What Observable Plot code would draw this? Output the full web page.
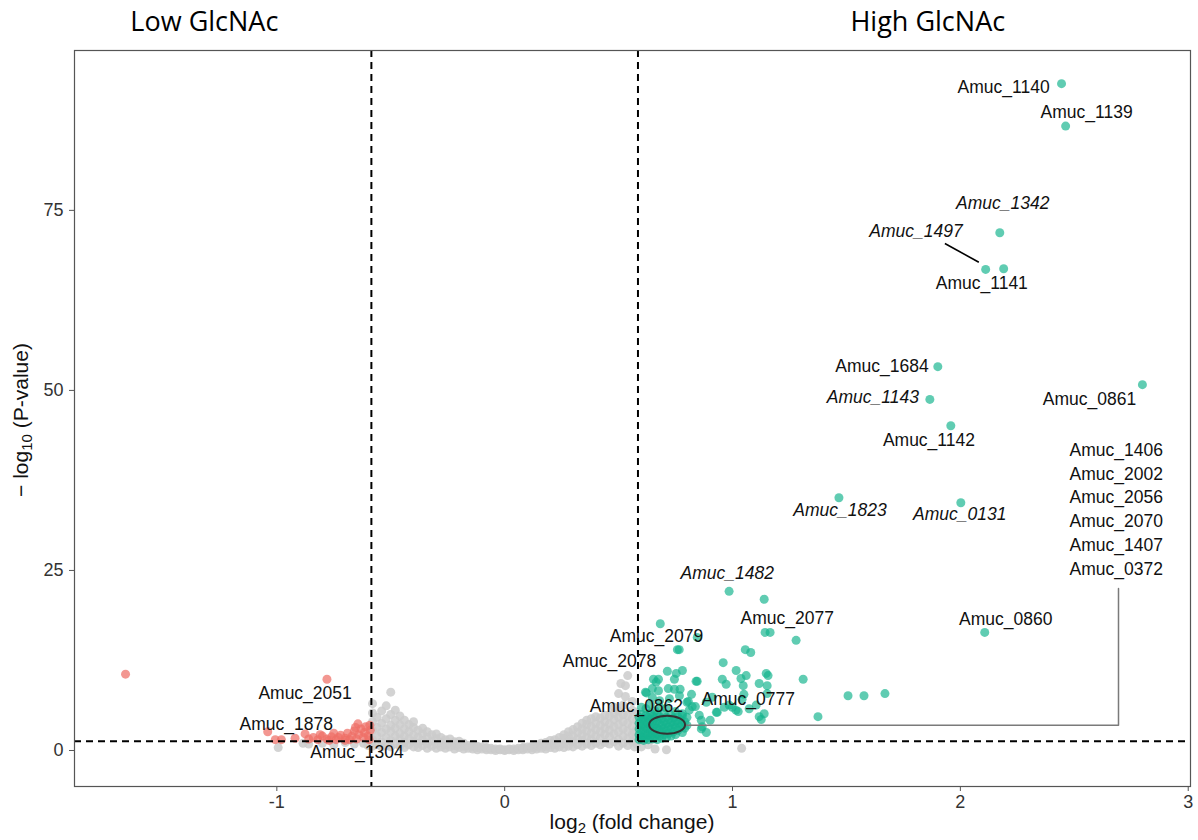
<!DOCTYPE html>
<html><head><meta charset="utf-8">
<script src="https://cdn.jsdelivr.net/npm/d3@7"></script>
<script src="https://cdn.jsdelivr.net/npm/@observablehq/plot@0.6"></script>
<style>body{margin:0;background:#fff}</style>
</head><body><div id="chart"></div>
<script>
// ---- data (log2 fold change, -log10 P) ----
const greyCols = [
 [-0.58,[0.6,1.5,2.8,4.0,5.2,6.5]],[-0.56,[0.8,2.0,3.2,4.6]],[-0.54,[0.5,1.2,2.5,3.8,5.5]],
 [-0.52,[0.7,1.8,3.0,4.4,6.2]],[-0.50,[0.5,1.4,2.6,3.5,5.0,8.1]],[-0.48,[0.9,2.0,3.1,4.2,5.6]],
 [-0.46,[0.6,1.5,2.4,3.6,4.8]],[-0.44,[0.4,1.1,2.0,3.0,4.2]],[-0.42,[0.8,1.6,2.6,3.6]],
 [-0.40,[0.5,1.2,2.1,3.2,4.0]],[-0.38,[0.4,1.0,1.8,2.8]],[-0.36,[0.7,1.4,2.3,3.1]],
 [-0.34,[0.3,1.0,1.8,2.6]],[-0.32,[0.6,1.3,2.2]],[-0.30,[0.3,0.9,1.6,2.3]],[-0.28,[0.5,1.1,1.8]],
 [-0.26,[0.3,0.8,1.5]],[-0.24,[0.5,1.0,1.6]],[-0.22,[0.2,0.7,1.2]],[-0.20,[0.4,0.9,1.3]],
 [-0.18,[0.2,0.6,1.0]],[-0.16,[0.3,0.7]],[-0.14,[0.2,0.5,0.8]],[-0.12,[0.1,0.4,0.6]],
 [-0.10,[0.2,0.5]],[-0.08,[0.1,0.3,0.4]],[-0.06,[0.1,0.3]],[-0.04,[0.0,0.2]],[-0.02,[0.1,0.2]],
 [0.00,[0.0,0.1]],[0.02,[0.1,0.2]],[0.04,[0.0,0.2]],[0.06,[0.1,0.3]],[0.08,[0.1,0.3,0.4]],
 [0.10,[0.2,0.5]],[0.12,[0.1,0.4,0.6]],[0.14,[0.2,0.5,0.8]],[0.16,[0.3,0.7,1.0]],
 [0.18,[0.2,0.6,1.1]],[0.20,[0.4,0.9,1.4]],[0.22,[0.3,0.8,1.5]],[0.24,[0.5,1.1,1.8]],
 [0.26,[0.4,1.0,1.7,2.2]],[0.28,[0.6,1.3,2.0,2.6]],[0.30,[0.5,1.2,2.0,2.9]],[0.32,[0.8,1.6,2.5,3.3]],
 [0.34,[0.6,1.4,2.2,3.0,3.8]],[0.36,[0.9,1.8,2.7,3.6,4.2]],[0.38,[0.7,1.5,2.4,3.3,4.4]],
 [0.40,[1.0,2.0,2.9,3.8,4.7]],[0.42,[0.8,1.7,2.6,3.5,4.5]],[0.44,[1.1,2.2,3.1,4.0,4.9]],
 [0.46,[0.9,1.9,2.8,3.7,4.8]],[0.48,[1.2,2.3,3.3,4.3,5.2,6.0]],[0.50,[0.6,1.5,2.6,3.6,4.6,5.5,7.9]],
 [0.51,[9.3]],[0.52,[1.0,2.0,3.0,4.0,5.0,6.3]],[0.53,[9.0,7.5]],[0.54,[0.7,1.6,2.7,3.8,4.9,10.4]],
 [0.56,[1.2,2.2,3.3,4.4,5.6,6.8]],[0.57,[0.5,1.5,2.5]],[0.58,[0.9,1.9,3.0,4.2,5.3]],
 [0.60,[0.5]],[0.63,[0.8]],[0.66,[0.2]],[0.71,[0.1]],[1.04,[0.3]],
 [-0.994,[0.4]],[-0.885,[1.0]],[-0.86,[0.9]],[-0.80,[1.0]],[-0.75,[0.8]],[-0.70,[1.1]],
 [-0.66,[0.9]],[-0.62,[1.0]],[-0.60,[0.7]]
];
const redPts = [
 [-1.664,10.6],[-0.78,9.9],[-1.04,2.6],[-1.007,1.5],[-0.98,1.5],[-0.92,1.7],[-0.876,2.3],[-0.86,1.6],
 [-0.84,1.8],[-0.82,1.5],[-0.80,2.0],[-0.78,1.6],[-0.76,1.9],[-0.74,1.5],[-0.72,2.1],[-0.70,1.7],
 [-0.69,2.4],[-0.68,1.5],[-0.67,2.0],[-0.66,2.7],[-0.65,1.6],[-0.644,3.7],[-0.64,2.2],[-0.63,3.0],
 [-0.62,1.8],[-0.615,2.5],[-0.61,3.3],[-0.60,2.0],[-0.595,1.5],[-0.59,2.8],[-0.592,3.5],[-0.655,3.2],
 [-0.70,1.4],[-0.75,2.4],[-0.73,1.8],[-0.77,1.4],[-0.81,2.2]
];
const tealPts = [
 [2.444,92.6],[2.462,86.7],[2.173,71.9],[2.111,66.8],[2.19,66.9],[1.901,53.3],[1.866,48.75],
 [1.958,45.1],[2.799,50.8],[1.467,35.1],[2.002,34.4],[2.107,16.4],
 [0.985,22.1],[1.139,21.0],[1.143,16.4],[1.165,16.4],[1.279,15.3],[0.683,17.6],[0.845,15.7],
 [0.758,14.0],[0.766,14.0],[1.056,14.0],[1.08,13.6],[0.959,12.2],[1.016,11.1],[0.78,11.1],
 [0.714,11.0],[0.753,10.7],[1.156,10.4],[1.06,10.4],[1.037,10.0],[1.31,9.9],[0.653,9.9],
 [0.675,9.9],[0.745,9.9],[0.845,9.6],[0.955,9.9],[0.972,9.2],[1.047,9.0],[1.152,9.0],
 [1.507,7.6],[1.577,7.6],[1.669,7.9],[1.375,4.7],[0.648,8.6],[0.675,8.3],[0.718,8.6],
 [0.745,8.5],[0.77,8.5],[0.82,7.8],[0.618,8.1],[0.648,7.4],[0.929,5.3],[1.025,5.4],
 [1.139,5.1],[1.126,4.3],[0.902,4.2],[0.867,3.3],[0.885,2.5],[0.854,4.9],[0.823,6.1],
 [0.911,7.4],[0.964,6.0],[0.999,6.0],[1.042,7.1],[0.806,6.8],[1.148,10.7],[0.665,9.5],
 [0.84,9.6],[1.117,9.3],[1.05,7.8],[1.152,7.9],[0.622,8.0],[0.68,6.9],[0.723,7.2],[0.767,7.6],
 [0.80,6.7],[0.837,6.1],[0.885,6.7],[0.933,5.3],[0.985,6.3],[1.015,5.6],[1.073,5.8],
 [1.104,6.3],[1.117,4.7],[0.863,3.0],[0.863,4.2],[0.81,5.6],[0.78,5.1]
];
const tealDenseCols = [
 [0.59,[1.5,2.2,3.0,3.8,4.6]],[0.60,[1.8,2.6,3.4,4.2,5.0,6.0]],[0.61,[1.4,2.0,2.9,3.6,4.4]],
 [0.62,[1.7,2.4,3.2,4.0,4.9,5.8]],[0.63,[1.5,2.2,3.0,3.8,4.6]],[0.64,[2.0,2.8,3.5,4.3,5.2,6.4]],
 [0.65,[1.6,2.4,3.2,4.0,4.8]],[0.66,[1.9,2.7,3.6,4.5,5.5]],[0.67,[1.5,2.3,3.1,4.1,5.0]],
 [0.68,[2.0,2.9,3.8,4.7,6.0]],[0.69,[1.7,2.6,3.5,4.4]],[0.70,[2.2,3.1,4.0,5.1]],
 [0.71,[1.8,2.8,3.7,4.6,5.9]],[0.72,[2.4,3.3,4.3]],[0.73,[2.0,3.0,3.9,4.9]],[0.74,[2.6,3.6,4.5]],
 [0.75,[2.2,3.2,4.1,5.4]],[0.76,[2.8,3.8,4.7]],[0.77,[3.3,4.3]],[0.78,[2.5,3.6,4.8]],
 [0.79,[3.1,4.0]],[0.80,[3.5,4.6]]
];
// labels: text, x, y (data space), italic
const labelText = ["Amuc_1140","Amuc_1139","Amuc_1342","Amuc_1497","Amuc_1141","Amuc_1684","Amuc_1143",
 "Amuc_1142","Amuc_0861","Amuc_1823","Amuc_0131","Amuc_1482","Amuc_2077","Amuc_2079","Amuc_2078",
 "Amuc_0862","Amuc_0777","Amuc_0860","Amuc_2051","Amuc_1878","Amuc_1304"];
const labelX = [2.19,2.554,2.186,1.805,2.094,1.656,1.616,1.862,2.567,1.472,1.997,0.977,1.24,0.666,0.46,
 0.578,1.069,2.199,-0.876,-0.959,-0.648];
const labelY = [92.1,88.6,76.0,72.1,64.9,53.3,49.0,43.1,48.75,33.3,32.8,24.6,18.3,15.8,12.4,
 6.1,7.1,18.2,7.9,3.6,-0.3];
const labelItalic = [0,0,1,1,0,0,1,0,0,1,1,1,0,0,0,0,0,0,0,0,0];
const stackText = ["Amuc_1406","Amuc_2002","Amuc_2056","Amuc_2070","Amuc_1407","Amuc_0372"];
const stackY = [41.7,38.3,35.1,31.8,28.5,25.1];
const stackX = 2.479;
const connX = [0.79,2.694,2.694], connY = [3.5,3.5,22.5];
const leader1497 = [{x1:1.932,y1:70.4,x2:2.081,y2:67.8}];
const ellipseC = {x:0.715, y:3.5, dx:0.079, dy:1.25};
const vThresh = [-0.585, 0.585], hThresh = [1.3];
const xTicks = [-1,0,1,2,3], yTicks = [0,25,50,75];
const titles = [{t:"Low GlcNAc",x:-1.318,y:101.1},{t:"High GlcNAc",x:1.857,y:101.1}];

// ---- build ----
const grey = greyCols.flatMap(([x,ys]) => ys.map(y => ({x,y})));
const red = redPts.map(([x,y]) => ({x,y}));
const teal = tealPts.map(([x,y]) => ({x,y})).concat(tealDenseCols.flatMap(([x,ys]) => ys.map(y => ({x,y}))));
const labels = labelText.map((t,i) => ({t, x:labelX[i], y:labelY[i], it:labelItalic[i]}));
const stack = stackText.map((t,i) => ({t, x:stackX, y:stackY[i]}));
const conn = connX.map((x,i) => ({x, y:connY[i]}));
const font = "Liberation Sans, Arial, sans-serif";

const plot = Plot.plot({
  width:1198, height:840, marginLeft:74, marginRight:8, marginTop:50, marginBottom:54,
  style:{fontFamily:font, background:"#fff"},
  x:{domain:[-1.888,3.01]},
  y:{domain:[-5,97.2]},
  marks:[
    Plot.dot(grey,{x:"x",y:"y",r:4.5,fill:"#cbcbcb",fillOpacity:0.85}),
    Plot.dot(red,{x:"x",y:"y",r:4.5,fill:"#ef6f66",fillOpacity:0.72}),
    Plot.dot(teal,{x:"x",y:"y",r:4.5,fill:"#14b48d",fillOpacity:0.68}),
    Plot.ruleX(vThresh,{stroke:"#000",strokeWidth:2,strokeDasharray:"7,5"}),
    Plot.ruleY(hThresh,{stroke:"#000",strokeWidth:2,strokeDasharray:"7,5"}),
    Plot.line(conn,{x:"x",y:"y",stroke:"#7a7a7a",strokeWidth:1.5}),
    Plot.link(leader1497,{x1:"x1",y1:"y1",x2:"x2",y2:"y2",stroke:"#000",strokeWidth:1.6}),
    (index, scales) => {
      const e = document.createElementNS("http://www.w3.org/2000/svg","ellipse");
      const cx = scales.x(ellipseC.x), cy = scales.y(ellipseC.y);
      e.setAttribute("cx",cx); e.setAttribute("cy",cy);
      e.setAttribute("rx",scales.x(ellipseC.x+ellipseC.dx)-cx);
      e.setAttribute("ry",cy-scales.y(ellipseC.y+ellipseC.dy));
      e.setAttribute("fill","none"); e.setAttribute("stroke","#333"); e.setAttribute("stroke-width","2");
      return e;
    },
    Plot.text(labels.filter(d=>!d.it),{x:"x",y:"y",text:"t",fontSize:17.5,fill:"#111"}),
    Plot.text(labels.filter(d=>d.it),{x:"x",y:"y",text:"t",fontSize:17.5,fill:"#111",fontStyle:"italic"}),
    Plot.text(stack,{x:"x",y:"y",text:"t",fontSize:17.5,fill:"#111",textAnchor:"start"}),
    Plot.text(titles,{x:"x",y:"y",text:"t",fontSize:27,fill:"#000",fontFamily:"Open Sans",clip:false}),
    Plot.frame({stroke:"#555",strokeWidth:1.2}),
    Plot.axisX(xTicks,{tickSize:5,tickPadding:4,fontSize:18,fill:"#333",stroke:"#555",label:null,tickFormat:d=>String(d)}),
    Plot.axisY(yTicks,{tickSize:5,tickPadding:6,fontSize:18,fill:"#333",stroke:"#555",label:null})
  ]
});
document.getElementById("chart").append(plot);

// axis titles with subscripts
const svg = d3.select(plot);
const xt = svg.append("text").attr("x",632).attr("y",829).attr("text-anchor","middle")
  .attr("font-size",21).attr("font-family",font).attr("fill","#111");
xt.append("tspan").text("log");
xt.append("tspan").attr("font-size",15).attr("dy",4).text("2");
xt.append("tspan").attr("dy",-4).text(" (fold change)");
const yt = svg.append("text").attr("transform","translate(28,420) rotate(-90)").attr("text-anchor","middle")
  .attr("font-size",21).attr("font-family",font).attr("fill","#111");
yt.append("tspan").text("\u2212 log");
yt.append("tspan").attr("font-size",15).attr("dy",4).text("10");
yt.append("tspan").attr("dy",-4).text(" (P-value)");
</script></body></html>
